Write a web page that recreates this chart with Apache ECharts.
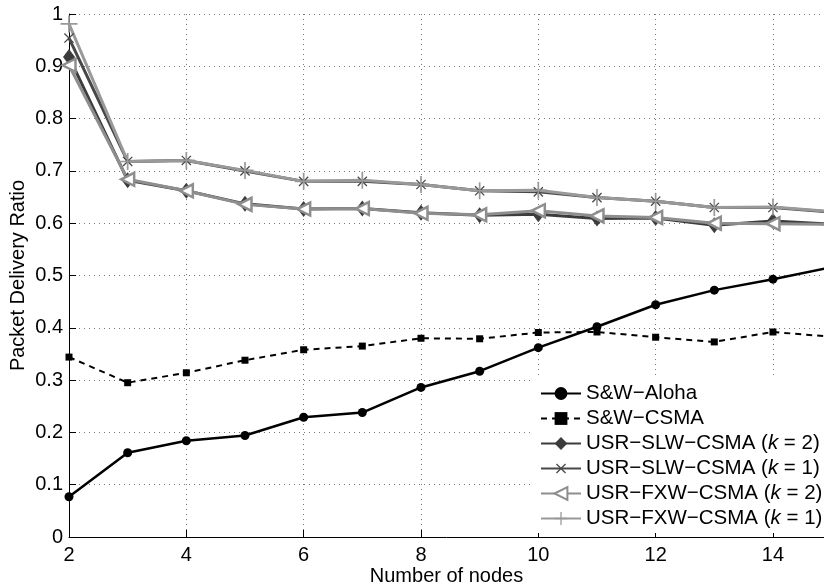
<!DOCTYPE html>
<html>
<head>
<meta charset="utf-8">
<script src="https://cdn.jsdelivr.net/npm/echarts@6/dist/echarts.min.js"></script>
<style>
html,body{margin:0;padding:0;background:#fff;}
#chart{width:824px;height:587px;}
</style>
</head>
<body>
<div id="chart"></div>
<script>
var nodes = [2, 3, 4, 5, 6, 7, 8, 9, 10, 11, 12, 13, 14, 15];
var swAloha = [0.077, 0.161, 0.184, 0.194, 0.229, 0.238, 0.286, 0.317, 0.362, 0.402, 0.444, 0.472, 0.493, 0.516];
var swCsma = [0.344, 0.295, 0.314, 0.338, 0.358, 0.365, 0.380, 0.379, 0.391, 0.392, 0.382, 0.373, 0.392, 0.383];
var slwK2 = [0.918, 0.682, 0.662, 0.637, 0.627, 0.628, 0.620, 0.615, 0.617, 0.609, 0.610, 0.596, 0.604, 0.598];
var slwK1 = [0.954, 0.718, 0.720, 0.700, 0.680, 0.680, 0.674, 0.662, 0.660, 0.649, 0.642, 0.630, 0.630, 0.621];
var fxwK2 = [0.902, 0.684, 0.662, 0.636, 0.627, 0.628, 0.619, 0.616, 0.624, 0.614, 0.611, 0.600, 0.599, 0.598];
var fxwK1 = [0.981, 0.718, 0.720, 0.701, 0.680, 0.682, 0.674, 0.662, 0.663, 0.649, 0.642, 0.630, 0.631, 0.622];

function pts(vals) {
  return nodes.map(function (n, i) { return [n, vals[i]]; });
}

var plusPath = 'path://M-1,-10h2v20h-2zM-10,-1h20v2h-20z';
var font = 'Liberation Sans, Arial, Helvetica, sans-serif';

var myChart = echarts.init(document.getElementById('chart'));

var option = {
  animation: false,
  // the original figure is cut off just before x = 15
  grid: { left: 69, top: 14, bottom: 50, right: 0, outerBoundsMode: 'none', containLabel: false },
  xAxis: {
    type: 'value',
    min: 2,
    max: 14.87,
    interval: 2,
    name: 'Number of nodes',
    nameLocation: 'middle',
    nameGap: 29,
    nameMoveOverlap: false,
    nameTextStyle: { color: '#000', fontSize: 20, fontFamily: font },
    axisLine: { show: true, lineStyle: { color: '#000', width: 1 } },
    axisTick: { show: true, inside: true, length: 7, lineStyle: { color: '#000' } },
    axisLabel: {
      color: '#000', fontSize: 20, fontFamily: font, margin: 8,
      formatter: function (v) { return v % 1 === 0 ? v : ''; }
    },
    splitLine: { show: true, lineStyle: { color: '#777', type: [1, 4], width: 1 } }
  },
  yAxis: {
    type: 'value',
    min: 0,
    max: 1,
    interval: 0.1,
    name: 'Packet Delivery Ratio',
    nameLocation: 'middle',
    nameGap: 41,
    nameMoveOverlap: false,
    nameTextStyle: { color: '#000', fontSize: 20, fontFamily: font },
    axisLine: { show: true, lineStyle: { color: '#000', width: 1 } },
    axisTick: { show: true, inside: true, length: 7, lineStyle: { color: '#000' } },
    axisLabel: {
      color: '#000', fontSize: 20, fontFamily: font, margin: 6,
      formatter: function (v) { return +v.toFixed(1); }
    },
    splitLine: { show: true, lineStyle: { color: '#777', type: [1, 4], width: 1 } }
  },
  legend: {
    orient: 'vertical',
    left: 532,
    top: 379,
    backgroundColor: '#fff',
    padding: [4, 4, 4, 8],
    itemWidth: 40,
    itemHeight: 16,
    itemGap: 4,
    textStyle: {
      color: '#000', fontSize: 20.5, fontFamily: font, lineHeight: 20,
      rich: { i: { fontStyle: 'italic', fontSize: 20.5, fontFamily: font, color: '#000' } }
    },
    formatter: function (name) { return name.replace('k =', '{i|k} ='); },
    data: ['S&W\u2212Aloha', 'S&W\u2212CSMA', 'USR\u2212SLW\u2212CSMA (k = 2)', 'USR\u2212SLW\u2212CSMA (k = 1)', 'USR\u2212FXW\u2212CSMA (k = 2)', 'USR\u2212FXW\u2212CSMA (k = 1)']
  },
  series: [
    {
      name: 'S&W\u2212Aloha', type: 'line', data: pts(swAloha),
      symbol: 'circle', symbolSize: 9,
      lineStyle: { color: '#000', width: 2.5 },
      itemStyle: { color: '#000' }
    },
    {
      name: 'S&W\u2212CSMA', type: 'line', data: pts(swCsma),
      symbol: 'rect', symbolSize: 7,
      lineStyle: { color: '#000', width: 2, type: [6, 5] },
      itemStyle: { color: '#000' }
    },
    {
      name: 'USR\u2212SLW\u2212CSMA (k = 2)', type: 'line', data: pts(slwK2),
      symbol: 'diamond', symbolSize: [12, 16],
      lineStyle: { color: '#3c3c3c', width: 3 },
      itemStyle: { color: '#3c3c3c' }
    },
    {
      name: 'USR\u2212SLW\u2212CSMA (k = 1)', type: 'line', data: pts(slwK1),
      symbol: plusPath, symbolRotate: 45, symbolSize: 13,
      lineStyle: { color: '#484848', width: 3 },
      itemStyle: { color: '#484848' }
    },
    {
      name: 'USR\u2212FXW\u2212CSMA (k = 2)', type: 'line', data: pts(fxwK2),
      symbol: 'triangle', symbolRotate: 90, symbolSize: 13,
      lineStyle: { color: '#8e8e8e', width: 3 },
      itemStyle: { color: '#fff', borderColor: '#8e8e8e', borderWidth: 2.5 }
    },
    {
      name: 'USR\u2212FXW\u2212CSMA (k = 1)', type: 'line', data: pts(fxwK1),
      symbol: plusPath, symbolSize: 17,
      lineStyle: { color: '#999', width: 3 },
      itemStyle: { color: '#999' }
    }
  ]
};

myChart.setOption(option);
</script>
</body>
</html>
